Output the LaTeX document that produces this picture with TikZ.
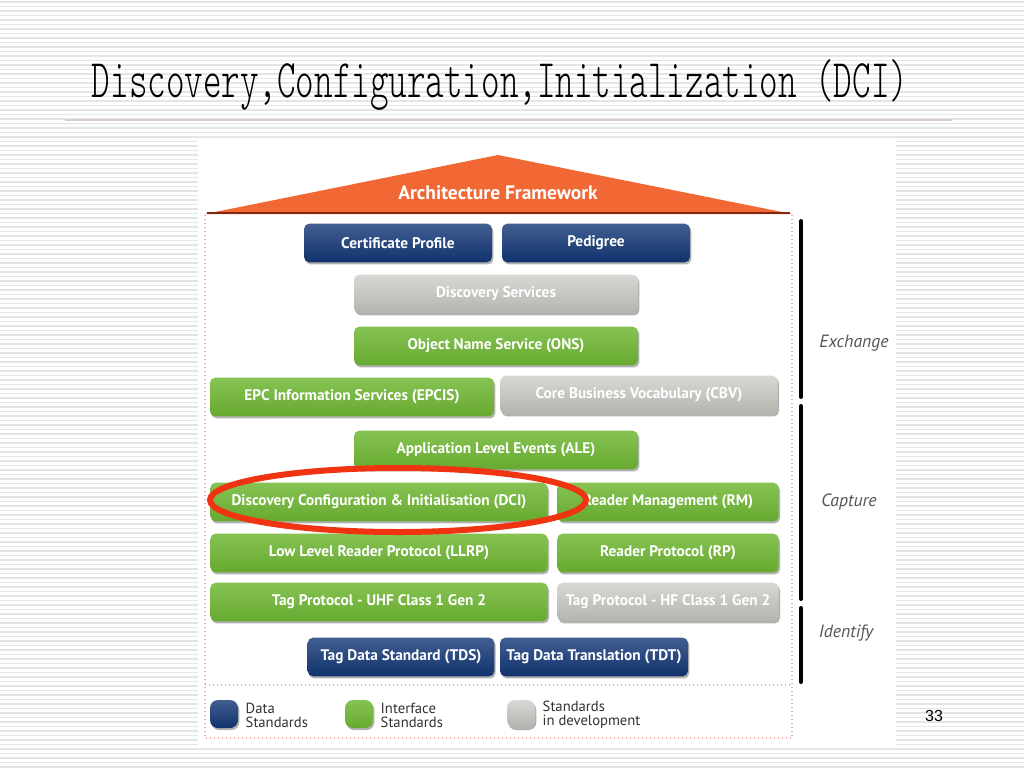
\documentclass[tikz,border=0pt]{standalone}
\usepackage{fontspec}
\usepackage{graphicx}
\setmainfont{PT Sans}
\newfontfamily\pagefont{Liberation Sans}
\newfontfamily\titlefont{Latin Modern Mono Light}
\usetikzlibrary{shadows}

\definecolor{roofOrange}{RGB}{241,104,52}
\definecolor{roofDark}{RGB}{130,38,15}
\definecolor{dataBlue}{RGB}{18,54,118}
\definecolor{ifGreen}{RGB}{112,184,52}
\definecolor{devGrey}{RGB}{198,200,193}
\definecolor{frameDot}{RGB}{240,172,160}
\definecolor{ringRed}{RGB}{240,52,18}
\definecolor{stripeGrey}{RGB}{229,229,229}
\definecolor{titleRule}{RGB}{222,206,200}
\definecolor{layerText}{RGB}{85,85,85}
\definecolor{legendText}{RGB}{50,50,50}

\tikzset{
  stdbox/.style={rounded corners=4pt, minimum height=29pt, inner sep=0pt,
    text=white, font=\bfseries\fontsize{11.5}{13}\selectfont,
    drop shadow={shadow xshift=1pt, shadow yshift=-1.6pt, opacity=0.6}},
  databox/.style={stdbox, top color=dataBlue!80!white, bottom color=dataBlue!92!black},
  ifbox/.style={stdbox, top color=ifGreen!85!white, bottom color=ifGreen!92!black},
  devbox/.style={stdbox, top color=devGrey!70!white, bottom color=devGrey!90!black},
  keybox/.style={minimum size=21pt, rounded corners=6pt, inner sep=0pt,
    drop shadow={shadow xshift=1pt, shadow yshift=-1.6pt, opacity=0.6}},
  keytext/.style={anchor=west, align=left, text=legendText,
    font=\fontsize{11}{10.5}\selectfont},
  layer/.style={text=layerText, font=\itshape\fontsize{13.3}{15}\selectfont},
  bar/.style={line width=3pt, line cap=round}
}

\begin{document}
\begin{tikzpicture}[x=0.75pt,y=-0.75pt]
\useasboundingbox (0,0) rectangle (1024,768);

% slide background
\fill[white] (0,0) rectangle (1024,768);
\foreach \y in {2,6.5,...,768}
    \draw[stripeGrey, line width=1.1pt] (0,\y) -- (1024,\y);

\node[anchor=base, inner sep=0pt, font=\titlefont\fontsize{26.5}{30}\selectfont] (title) at (500,97)
    {\scalebox{1}[1.54]{Discovery,Configuration,Initialization (DCI)}};
\draw[titleRule, line width=1.5pt] (65,120) -- (952,120);

\fill[white] (198,138) rectangle (896,745);

% roof
\fill[roofOrange] (205,214) -- (498,155) -- (792,214) -- cycle;
\draw[roofDark, line width=2pt] (207,213) -- (790,213);
\node[text=white, font=\bfseries\fontsize{14.6}{16}\selectfont] (roof) at (498,193) {Architecture Framework};

% frame
\draw[frameDot, dotted, line width=1pt] (205,215) -- (205,738) -- (792,738) -- (792,215);
\draw[frameDot, dotted, line width=1pt] (205,685) -- (792,685);

% standards
\node[databox, minimum width=141pt] (cert) at (398,243) {Certificate Profile};
\node[databox, minimum width=141pt] (pedigree) at (596,243) {Pedigree};
\node[devbox, minimum width=213pt] (disc) at (496,294) {Discovery Services};
\node[ifbox, minimum width=213pt] (ons) at (496,346) {Object Name Service (ONS)};
\node[ifbox, minimum width=213pt] (epcis) at (352,397) {EPC Information Services (EPCIS)};
\node[devbox, minimum width=208pt] (cbv) at (639,395) {Core Business Vocabulary (CBV)};
\node[ifbox, minimum width=213pt] (ale) at (496,450) {Application Level Events (ALE)};
\node[ifbox, minimum width=253pt] (dci) at (379,502) {Discovery Configuration \& Initialisation (DCI)};
\node[ifbox, minimum width=166pt] (rm) at (668,502) {Reader Management (RM)};
\node[ifbox, minimum width=253pt] (llrp) at (379,553) {Low Level Reader Protocol (LLRP)};
\node[ifbox, minimum width=166pt] (rp) at (668,553) {Reader Protocol (RP)};
\node[ifbox, minimum width=253pt] (uhf) at (379,602) {Tag Protocol - UHF Class 1 Gen 2};
\node[devbox, minimum width=166pt] (hf) at (668,602) {Tag Protocol - HF Class 1 Gen 2};
\node[databox, minimum width=140pt] (tds) at (401,657) {Tag Data Standard (TDS)};
\node[databox, minimum width=141pt] (tdt) at (594,657) {Tag Data Translation (TDT)};

% legend
\node[keybox, top color=dataBlue!80!white, bottom color=dataBlue!92!black] (keydata) at (224,714) {};
\node[keytext] (keydatatxt) at (241,715) {Data\\Standards};
\node[keybox, top color=ifGreen!85!white, bottom color=ifGreen!92!black] (keyif) at (359,714) {};
\node[keytext] (keyiftxt) at (376,715) {Interface\\Standards};
\node[keybox, top color=devGrey!70!white, bottom color=devGrey!90!black] (keydev) at (521,714) {};
\node[keytext] (keydevtxt) at (538,715) {Standards\\in development};

% layers
\draw[bar] (801,221) -- (801,397);
\draw[bar] (801,406) -- (801,599);
\draw[bar] (801,608) -- (801,682);
\node[layer] (exchange) at (854,343) {Exchange};
\node[layer] (capture) at (849,502) {Capture};
\node[layer] (identify) at (846,633) {Identify};

% highlight
\draw[ringRed, line width=4.5pt] (398,500) ellipse [x radius=188, y radius=32];

\node[font=\pagefont\fontsize{12}{14}\selectfont] (page) at (934,716) {33};
\end{tikzpicture}
\end{document}
